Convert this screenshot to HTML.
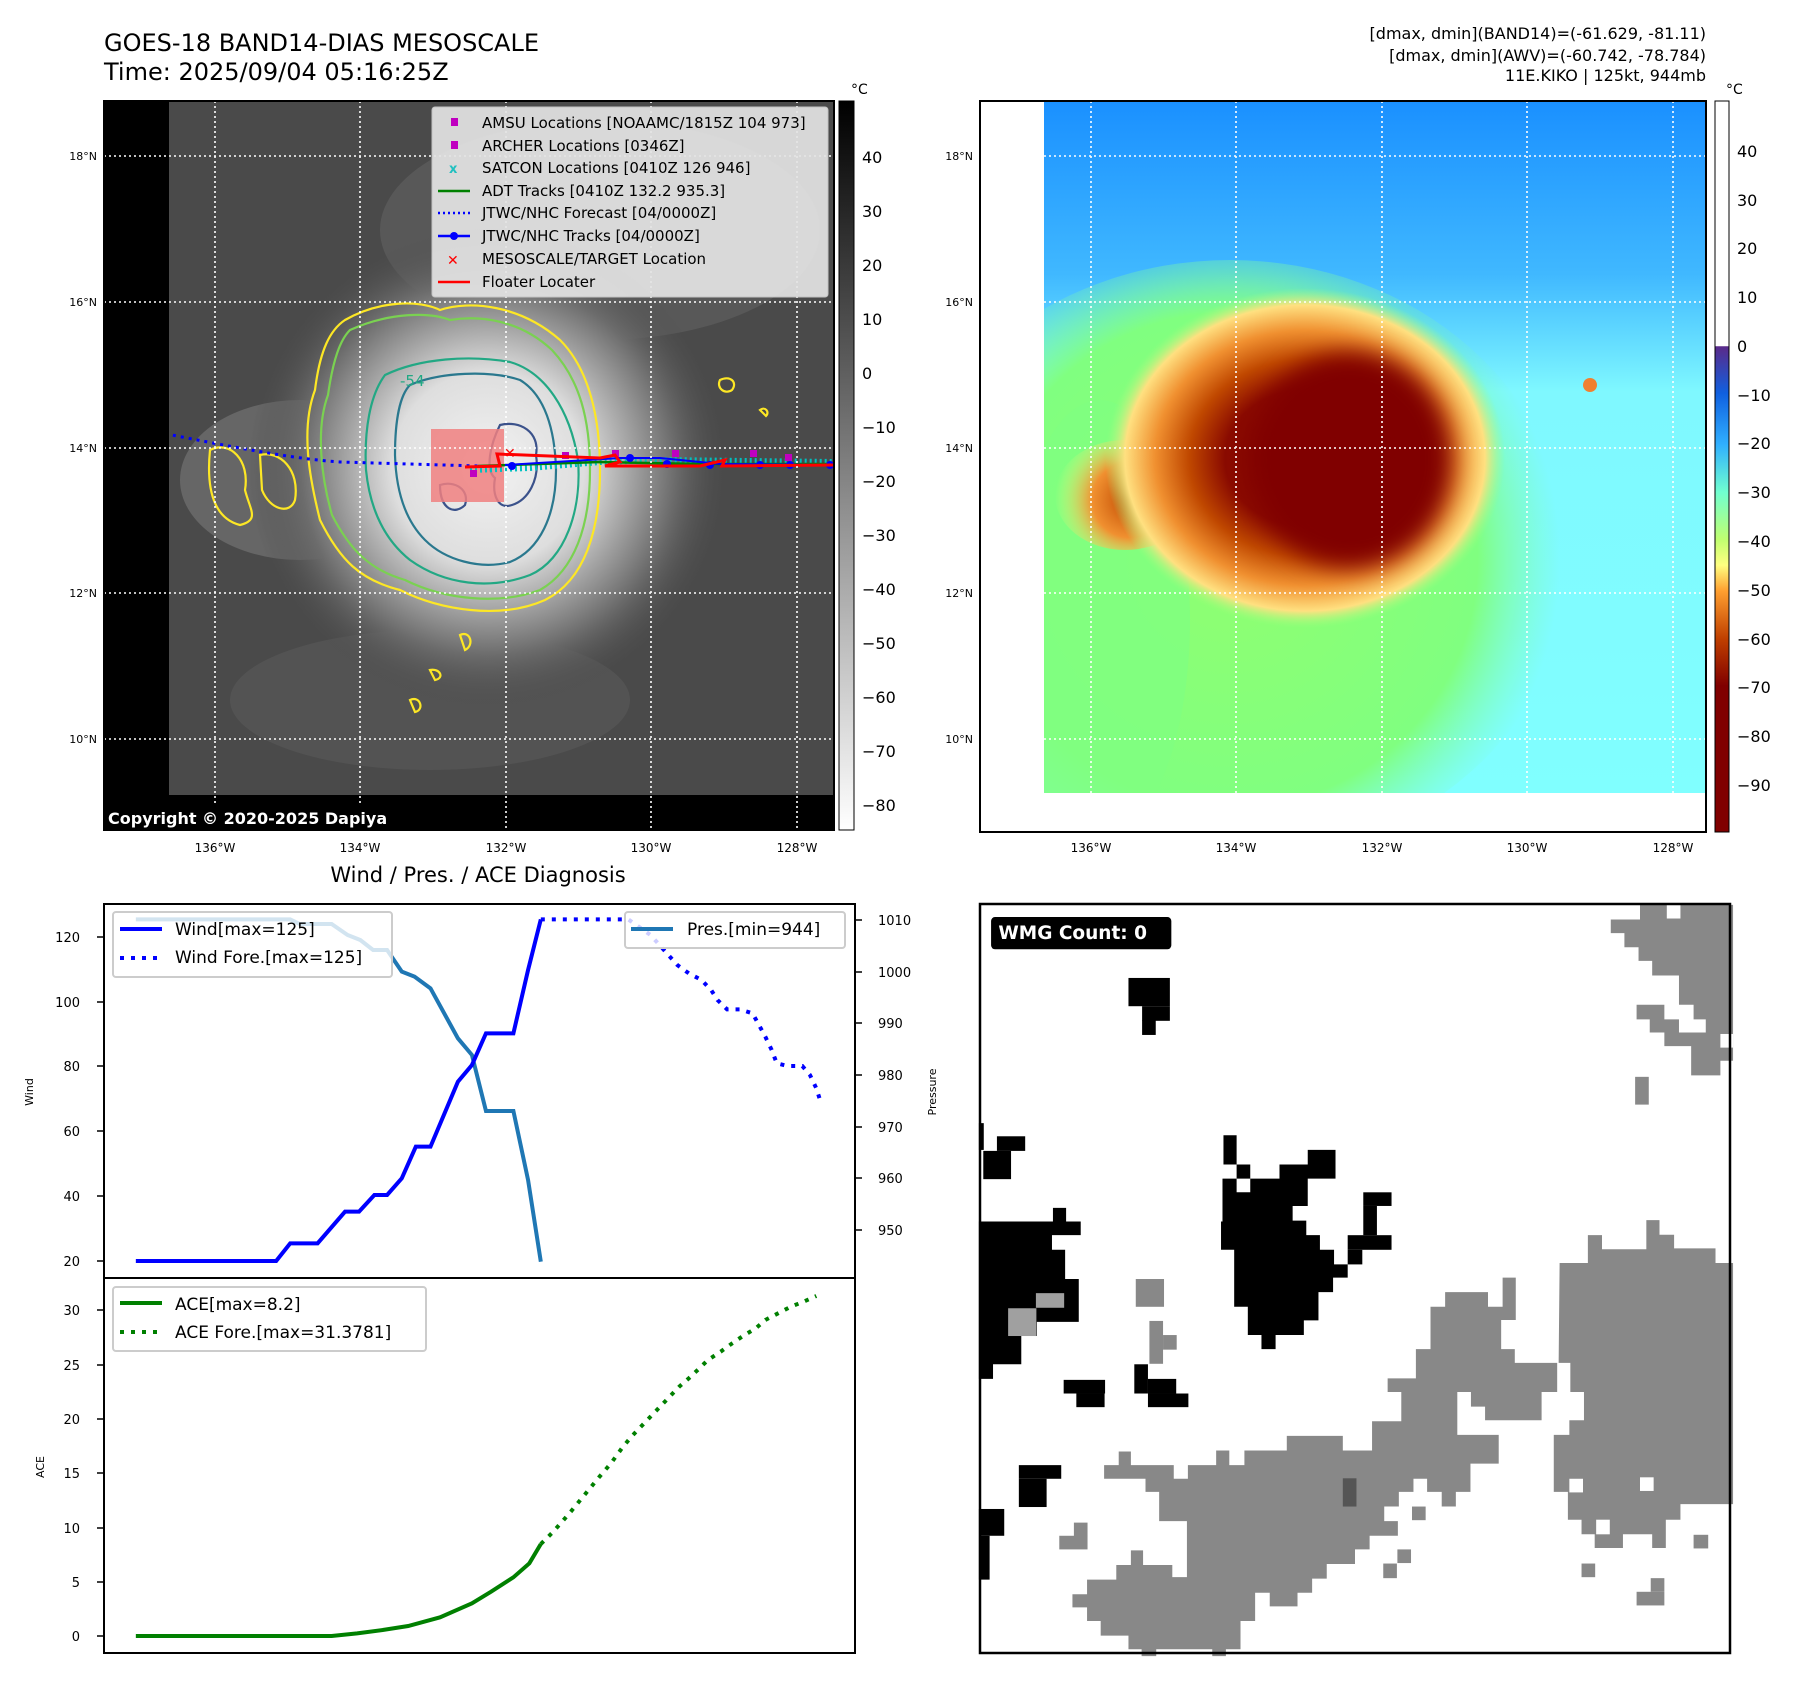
<!DOCTYPE html>
<html><head><meta charset="utf-8"><style>
html,body{margin:0;padding:0;background:#fff}
svg{display:block}
text{font-family:"DejaVu Sans","Liberation Sans",sans-serif}
</style></head><body>
<svg width="1797" height="1690" viewBox="0 0 1797 1690" xmlns="http://www.w3.org/2000/svg">
<defs>
<filter id="blur" x="-30%" y="-30%" width="160%" height="160%"><feGaussianBlur stdDeviation="12"/></filter>
<clipPath id="clipL"><rect x="169" y="101" width="665" height="694"/></clipPath>
<clipPath id="clipR"><rect x="1044" y="101" width="662" height="692"/></clipPath>
<radialGradient id="wc" cx="488" cy="468" r="240" gradientUnits="userSpaceOnUse">
<stop offset="0" stop-color="#f2f2f2"/><stop offset="0.4" stop-color="#dedede"/><stop offset="0.58" stop-color="#a8a8a8"/><stop offset="0.78" stop-color="#6c6c6c"/><stop offset="1" stop-color="#4c4c4c" stop-opacity="0"/>
</radialGradient>
<linearGradient id="gbar" x1="0" y1="0" x2="0" y2="1"><stop offset="0" stop-color="#000"/><stop offset="1" stop-color="#fff"/></linearGradient>
<linearGradient id="cbar" x1="0" y1="101" x2="0" y2="832" gradientUnits="userSpaceOnUse">
<stop offset="0" stop-color="#fff"/><stop offset="0.335" stop-color="#fff"/><stop offset="0.336" stop-color="#5a2a8a"/>
<stop offset="0.40" stop-color="#1060e0"/><stop offset="0.47" stop-color="#30b0ff"/><stop offset="0.535" stop-color="#70ffd0"/>
<stop offset="0.60" stop-color="#c0ff70"/><stop offset="0.635" stop-color="#ffff80"/><stop offset="0.67" stop-color="#ffa030"/>
<stop offset="0.735" stop-color="#c04000"/><stop offset="0.80" stop-color="#800000"/><stop offset="1" stop-color="#800000"/>
</linearGradient>
<linearGradient id="sky" x1="0" y1="101" x2="0" y2="793" gradientUnits="userSpaceOnUse">
<stop offset="0" stop-color="#1a90ff"/><stop offset="0.25" stop-color="#40b8ff"/><stop offset="0.42" stop-color="#7ff8ff"/><stop offset="1" stop-color="#80ffff"/>
</linearGradient>
<radialGradient id="grn" cx="1230" cy="560" r="330" gradientUnits="userSpaceOnUse">
<stop offset="0" stop-color="#90ff70"/><stop offset="0.75" stop-color="#80ff80"/><stop offset="1" stop-color="#80ffb0" stop-opacity="0"/>
</radialGradient>
<radialGradient id="eye" cx="0.5" cy="0.5" r="0.5">
<stop offset="0" stop-color="#800000"/><stop offset="0.4" stop-color="#8a0a00"/><stop offset="0.58" stop-color="#c04800"/>
<stop offset="0.75" stop-color="#f09030"/><stop offset="0.9" stop-color="#ffe080"/><stop offset="1" stop-color="#a0ff80" stop-opacity="0"/>
</radialGradient>
<radialGradient id="arm" cx="1130" cy="500" r="75" gradientUnits="userSpaceOnUse">
<stop offset="0" stop-color="#c04800"/><stop offset="0.5" stop-color="#f09030"/><stop offset="1" stop-color="#ffff80" stop-opacity="0"/>
</radialGradient>
</defs>

<text x="104" y="51" font-size="24">GOES-18 BAND14-DIAS MESOSCALE</text>
<text x="104" y="80" font-size="24">Time: 2025/09/04 05:16:25Z</text>
<g font-size="16" text-anchor="end">
<text x="1706" y="39">[dmax, dmin](BAND14)=(-61.629, -81.11)</text>
<text x="1706" y="61">[dmax, dmin](AWV)=(-60.742, -78.784)</text>
<text x="1706" y="81">11E.KIKO | 125kt, 944mb</text>
</g>

<!-- LEFT MAP -->
<rect x="104" y="101" width="730" height="729" fill="#000"/>
<rect x="169" y="101" width="665" height="694" fill="#4a4a4a"/>
<g clip-path="url(#clipL)">
<ellipse cx="600" cy="230" rx="220" ry="110" fill="#5e5e5e" opacity="0.7"/>
<ellipse cx="300" cy="480" rx="120" ry="80" fill="#7a7a7a" opacity="0.6"/>
<ellipse cx="430" cy="700" rx="200" ry="70" fill="#5a5a5a" opacity="0.6"/>
<ellipse cx="488" cy="468" rx="240" ry="240" fill="url(#wc)"/>
<g fill="none" stroke-width="2.2">
<path d="M345,320 C380,300 420,300 440,310 C470,300 520,305 560,340 C590,370 600,420 600,470 C600,530 585,580 545,600 C500,620 440,610 400,590 C360,580 340,560 320,520 C310,480 300,430 315,390 C320,350 330,330 345,320Z" stroke="#fde725"/>
<path d="M350,330 C390,312 430,312 450,320 C480,315 520,320 552,350 C580,380 590,420 590,470 C590,525 575,570 540,590 C500,605 445,600 405,580 C370,570 350,550 332,515 C322,480 315,430 328,395 C333,360 340,340 350,330Z" stroke="#7ad151"/>
<path d="M385,375 C420,358 470,355 510,362 C545,372 570,410 578,460 C582,510 565,560 530,575 C490,590 445,585 410,560 C385,540 370,510 366,470 C364,430 370,395 385,375Z" stroke="#22a884"/>
<path d="M410,385 C440,372 490,370 520,380 C545,395 555,430 556,470 C556,515 540,550 510,562 C480,570 445,560 425,540 C405,520 396,490 395,455 C395,420 400,395 410,385Z" stroke="#2a788e"/>
<path d="M500,425 C520,420 540,432 536,455 C540,480 528,500 512,505 C498,510 492,495 495,478 C485,470 490,445 500,425Z M440,485 C455,480 470,490 465,505 C455,515 440,510 440,485Z" stroke="#3b528b"/>
<path d="M210,450 C230,440 250,460 245,490 C250,510 260,520 240,525 C220,520 205,500 210,450Z M260,455 C280,450 300,470 295,500 C290,515 270,510 262,490Z" stroke="#fde725"/>
<path d="M720,380 C730,375 738,382 732,390 C725,395 716,388 720,380Z M760,410 C765,406 770,412 766,416Z M460,635 C470,630 475,645 465,650Z M430,670 C440,668 445,678 435,680Z M410,700 C420,695 425,710 415,712Z" stroke="#fde725"/>
</g>
<text x="400" y="386" font-size="15" fill="#22a884">-54</text>
<rect x="431" y="429" width="73" height="73" fill="#f08080" opacity="0.85"/>
<path d="M110,423 C200,440 280,458 340,462 L478,466" fill="none" stroke="#0000ff" stroke-width="3" stroke-dasharray="3 5"/>
<polyline points="470,470 530,468 600,462 660,460 834,462" fill="none" stroke="#00c0c0" stroke-width="6" stroke-dasharray="2 3"/>
<polyline points="478,466 600,462 700,464 834,464" fill="none" stroke="#008000" stroke-width="2.5"/>
<polyline points="505,465 620,458 660,458 720,464 834,465" fill="none" stroke="#0000ff" stroke-width="2"/>
<g fill="#0000ff"><circle cx="512" cy="466" r="4"/><circle cx="630" cy="458" r="4"/><circle cx="667" cy="464" r="4"/><circle cx="710" cy="465" r="4"/><circle cx="760" cy="465" r="4"/><circle cx="790" cy="465" r="4"/><circle cx="830" cy="465" r="4"/></g>
<g fill="#c000c0"><rect x="470" y="470" width="7" height="7"/><rect x="562" y="452" width="7" height="7"/><rect x="612" y="450" width="7" height="7"/><rect x="672" y="450" width="7" height="7"/><rect x="750" y="450" width="7" height="7"/><rect x="785" y="454" width="7" height="7"/></g>
<polyline points="465,467 500,466 497,454 600,458 615,455 620,462 605,466 700,466 725,460 722,466 834,465" fill="none" stroke="#ff0000" stroke-width="3"/>
<text x="504" y="458" font-size="14" fill="#ff0000" font-weight="bold">✕</text>
</g>
<g stroke="#fff" stroke-width="1.6" stroke-dasharray="2 3">
<line x1="215" y1="101" x2="215" y2="830"/><line x1="360" y1="101" x2="360" y2="830"/><line x1="506" y1="101" x2="506" y2="830"/><line x1="651" y1="101" x2="651" y2="830"/><line x1="797" y1="101" x2="797" y2="830"/>
<line x1="104" y1="156" x2="834" y2="156"/><line x1="104" y1="302" x2="834" y2="302"/><line x1="104" y1="448" x2="834" y2="448"/><line x1="104" y1="593" x2="834" y2="593"/><line x1="104" y1="739" x2="834" y2="739"/>
</g>
<rect x="432" y="107" width="396" height="190" rx="3" fill="#e4e4e4" stroke="#ccc" opacity="0.92"/>
<g font-size="15" fill="#000">
<text x="482" y="128">AMSU Locations [NOAAMC/1815Z 104 973]</text>
<text x="482" y="151">ARCHER Locations [0346Z]</text>
<text x="482" y="173">SATCON Locations [0410Z 126 946]</text>
<text x="482" y="196">ADT Tracks [0410Z 132.2 935.3]</text>
<text x="482" y="218">JTWC/NHC Forecast [04/0000Z]</text>
<text x="482" y="241">JTWC/NHC Tracks [04/0000Z]</text>
<text x="482" y="264">MESOSCALE/TARGET Location</text>
<text x="482" y="287">Floater Locater</text>
</g>
<rect x="451" y="118" width="7" height="8" fill="#c000c0"/>
<rect x="451" y="141" width="7" height="8" fill="#c000c0"/>
<text x="449" y="173" font-size="13" fill="#20c0c0" font-weight="bold">x</text>
<line x1="438" y1="191" x2="470" y2="191" stroke="#008000" stroke-width="2.5"/>
<line x1="438" y1="213" x2="470" y2="213" stroke="#0000ff" stroke-width="2.5" stroke-dasharray="2 3"/>
<line x1="438" y1="236" x2="470" y2="236" stroke="#0000ff" stroke-width="2.5"/><circle cx="454" cy="236" r="4" fill="#0000ff"/>
<text x="447" y="265" font-size="14" fill="#ff0000" font-weight="bold">✕</text>
<line x1="438" y1="282" x2="470" y2="282" stroke="#ff0000" stroke-width="2.5"/>
<rect x="104" y="803" width="306" height="27" fill="#000"/>
<text x="108" y="824" font-size="16" font-weight="bold" fill="#fff">Copyright © 2020-2025 Dapiya</text>
<rect x="104" y="101" width="730" height="729" fill="none" stroke="#000" stroke-width="2"/>
<rect x="839" y="101" width="15" height="729" fill="url(#gbar)" stroke="#000" stroke-width="1"/>
<text x="851" y="94" font-size="14">°C</text>
<g font-size="16">
<text x="862" y="163">40</text><text x="862" y="217">30</text><text x="862" y="271">20</text><text x="862" y="325">10</text><text x="862" y="379">0</text>
<text x="862" y="433">−10</text><text x="862" y="487">−20</text><text x="862" y="541">−30</text><text x="862" y="595">−40</text><text x="862" y="649">−50</text>
<text x="862" y="703">−60</text><text x="862" y="757">−70</text><text x="862" y="811">−80</text>
</g>
<g font-size="11" text-anchor="end">
<text x="97" y="160">18°N</text><text x="97" y="306">16°N</text><text x="97" y="452">14°N</text><text x="97" y="597">12°N</text><text x="97" y="743">10°N</text>
<text x="973" y="160">18°N</text><text x="973" y="306">16°N</text><text x="973" y="452">14°N</text><text x="973" y="597">12°N</text><text x="973" y="743">10°N</text>
</g>
<g font-size="12" text-anchor="middle">
<text x="215" y="852">136°W</text><text x="360" y="852">134°W</text><text x="506" y="852">132°W</text><text x="651" y="852">130°W</text><text x="797" y="852">128°W</text>
<text x="1091" y="852">136°W</text><text x="1236" y="852">134°W</text><text x="1382" y="852">132°W</text><text x="1527" y="852">130°W</text><text x="1673" y="852">128°W</text>
</g>

<!-- RIGHT MAP -->
<rect x="980" y="101" width="726" height="731" fill="#fff"/>
<rect x="1044" y="101" width="662" height="692" fill="url(#sky)"/>
<g clip-path="url(#clipR)">
<ellipse cx="1230" cy="560" rx="340" ry="300" fill="url(#grn)"/>
<ellipse cx="1100" cy="620" rx="90" ry="220" fill="#80ff80" opacity="0.85"/>
<ellipse cx="1125" cy="495" rx="70" ry="55" fill="url(#arm)"/>
<ellipse cx="1305" cy="458" rx="200" ry="170" fill="url(#eye)"/>
<ellipse cx="1352" cy="460" rx="100" ry="108" fill="#800000" filter="url(#blur)"/>
<circle cx="1590" cy="385" r="7" fill="#f08030"/>
</g>
<g stroke="#fff" stroke-width="1.6" stroke-dasharray="2 3">
<line x1="1091" y1="101" x2="1091" y2="793"/><line x1="1236" y1="101" x2="1236" y2="793"/><line x1="1382" y1="101" x2="1382" y2="793"/><line x1="1527" y1="101" x2="1527" y2="793"/><line x1="1673" y1="101" x2="1673" y2="793"/>
<line x1="1044" y1="156" x2="1706" y2="156"/><line x1="1044" y1="302" x2="1706" y2="302"/><line x1="1044" y1="448" x2="1706" y2="448"/><line x1="1044" y1="593" x2="1706" y2="593"/><line x1="1044" y1="739" x2="1706" y2="739"/>
</g>
<rect x="980" y="101" width="726" height="731" fill="none" stroke="#000" stroke-width="2"/>
<rect x="1715" y="101" width="14" height="731" fill="url(#cbar)" stroke="#000" stroke-width="1"/>
<text x="1726" y="94" font-size="14">°C</text>
<g font-size="16">
<text x="1737" y="157">40</text><text x="1737" y="206">30</text><text x="1737" y="254">20</text><text x="1737" y="303">10</text><text x="1737" y="352">0</text>
<text x="1737" y="401">−10</text><text x="1737" y="449">−20</text><text x="1737" y="498">−30</text><text x="1737" y="547">−40</text><text x="1737" y="596">−50</text>
<text x="1737" y="645">−60</text><text x="1737" y="693">−70</text><text x="1737" y="742">−80</text><text x="1737" y="791">−90</text>
</g>

<!-- WIND PANEL -->
<text x="478" y="882" font-size="21" text-anchor="middle">Wind / Pres. / ACE Diagnosis</text>
<rect x="104" y="904" width="751" height="374" fill="none" stroke="#000" stroke-width="2"/>
<g font-size="13" text-anchor="end">
<text x="80" y="942">120</text><text x="80" y="1007">100</text><text x="80" y="1071">80</text><text x="80" y="1136">60</text><text x="80" y="1201">40</text><text x="80" y="1266">20</text>
</g>
<g stroke="#000" stroke-width="1.5">
<line x1="97" y1="937" x2="104" y2="937"/><line x1="97" y1="1002" x2="104" y2="1002"/><line x1="97" y1="1066" x2="104" y2="1066"/><line x1="97" y1="1131" x2="104" y2="1131"/><line x1="97" y1="1196" x2="104" y2="1196"/><line x1="97" y1="1261" x2="104" y2="1261"/>
<line x1="855" y1="920" x2="862" y2="920"/><line x1="855" y1="972" x2="862" y2="972"/><line x1="855" y1="1023" x2="862" y2="1023"/><line x1="855" y1="1075" x2="862" y2="1075"/><line x1="855" y1="1127" x2="862" y2="1127"/><line x1="855" y1="1178" x2="862" y2="1178"/><line x1="855" y1="1230" x2="862" y2="1230"/>
</g>
<g font-size="13">
<text x="878" y="925">1010</text><text x="878" y="977">1000</text><text x="878" y="1028">990</text><text x="878" y="1080">980</text><text x="878" y="1132">970</text><text x="878" y="1183">960</text><text x="878" y="1235">950</text>
</g>
<text font-size="11" transform="translate(33,1092) rotate(-90)" text-anchor="middle">Wind</text>
<text font-size="11" transform="translate(936,1092) rotate(-90)" text-anchor="middle">Pressure</text>
<g transform="translate(0,780) scale(0.63776,0.33333)" fill="none">
<polyline vector-effect="non-scaling-stroke" stroke="#1f77b4" stroke-width="4" points="213,418 455,418 470,432 520,432 545,465 565,480 585,510 607,510 630,575 650,590 675,625 718,775 740,825 762,993 805,993 828,1200 848,1445"/>
<polyline vector-effect="non-scaling-stroke" stroke="#0000ff" stroke-width="4" points="213,1443 433,1443 455,1390 498,1390 541,1295 563,1295 587,1245 607,1245 630,1195 652,1100 675,1100 718,905 740,855 762,760 805,760 828,570 848,418"/>
<polyline vector-effect="non-scaling-stroke" stroke="#0000ff" stroke-width="4" stroke-dasharray="4 7" points="848,418 985,418 1020,465 1048,525 1062,555 1080,580 1100,600 1115,630 1125,660 1140,688 1160,688 1180,700 1190,735 1200,770 1210,810 1218,850 1235,858 1258,858 1270,885 1280,925 1285,955"/>
</g>
<rect x="113" y="912" width="279" height="65" rx="3" fill="#fff" fill-opacity="0.8" stroke="#ccc" stroke-width="2"/>
<line x1="120" y1="929" x2="162" y2="929" stroke="#0000ff" stroke-width="4"/>
<line x1="120" y1="958" x2="162" y2="958" stroke="#0000ff" stroke-width="4" stroke-dasharray="4 7"/>
<text x="175" y="935" font-size="17">Wind[max=125]</text>
<text x="175" y="963" font-size="17">Wind Fore.[max=125]</text>
<rect x="625" y="912" width="220" height="36" rx="3" fill="#fff" fill-opacity="0.8" stroke="#ccc" stroke-width="2"/>
<line x1="631" y1="929" x2="673" y2="929" stroke="#1f77b4" stroke-width="4"/>
<text x="687" y="935" font-size="17">Pres.[min=944]</text>

<!-- ACE PANEL -->
<rect x="104" y="1278" width="751" height="375" fill="none" stroke="#000" stroke-width="2"/>
<g font-size="13" text-anchor="end">
<text x="80" y="1315">30</text><text x="80" y="1370">25</text><text x="80" y="1424">20</text><text x="80" y="1478">15</text><text x="80" y="1533">10</text><text x="80" y="1587">5</text><text x="80" y="1641">0</text>
</g>
<g stroke="#000" stroke-width="1.5">
<line x1="97" y1="1310" x2="104" y2="1310"/><line x1="97" y1="1365" x2="104" y2="1365"/><line x1="97" y1="1419" x2="104" y2="1419"/><line x1="97" y1="1473" x2="104" y2="1473"/><line x1="97" y1="1528" x2="104" y2="1528"/><line x1="97" y1="1582" x2="104" y2="1582"/><line x1="97" y1="1636" x2="104" y2="1636"/>
</g>
<text font-size="11" transform="translate(44,1467) rotate(-90)" text-anchor="middle">ACE</text>
<g transform="translate(0,1270) scale(0.63776,0.33333)" fill="none">
<polyline vector-effect="non-scaling-stroke" stroke="#008000" stroke-width="4" points="213,1098 520,1098 560,1090 600,1080 640,1068 690,1042 740,1000 770,965 805,922 830,880 848,822"/>
<polyline vector-effect="non-scaling-stroke" stroke="#008000" stroke-width="4" stroke-dasharray="4 7" points="848,822 865,790 880,758 895,725 910,690 925,655 940,620 958,580 975,535 990,500 1005,470 1020,440 1035,410 1050,380 1065,350 1080,325 1095,298 1110,270 1130,245 1148,220 1165,198 1185,175 1200,150 1220,130 1240,110 1260,95 1280,78"/>
</g>
<rect x="113" y="1287" width="313" height="64" rx="3" fill="#fff" fill-opacity="0.8" stroke="#ccc" stroke-width="2"/>
<line x1="120" y1="1303" x2="162" y2="1303" stroke="#008000" stroke-width="4"/>
<line x1="120" y1="1332" x2="162" y2="1332" stroke="#008000" stroke-width="4" stroke-dasharray="4 7"/>
<text x="175" y="1310" font-size="17">ACE[max=8.2]</text>
<text x="175" y="1338" font-size="17">ACE Fore.[max=31.3781]</text>

<!-- WMG PANEL -->
<g transform="translate(975,900) scale(0.48718)">
<g fill="#888">
<polygon points="1305,40 1365,40 1365,10 1556,10 1556,330 1530,330 1530,360 1470,360 1470,300 1415,300 1415,272 1385,272 1385,245 1358,245 1358,215 1415,215 1415,245 1445,245 1445,272 1500,272 1500,245 1475,245 1475,215 1445,215 1445,155 1390,155 1390,125 1362,125 1362,97 1333,97 1333,68 1305,68"/>
<rect x="1355" y="363" width="28" height="57"/>
<polygon points="200,1425 230,1425 230,1395 290,1395 290,1365 320,1365 320,1335 345,1335 345,1365 405,1365 405,1390 435,1390 435,1275 378,1275 378,1215 350,1215 350,1188 265,1188 265,1160 295,1160 295,1132 320,1132 320,1160 408,1160 408,1188 437,1188 437,1160 495,1160 495,1130 522,1130 522,1160 553,1160 553,1130 640,1130 640,1100 755,1100 755,1130 815,1130 815,1070 875,1070 875,1010 847,1010 847,982 905,982 905,922 935,922 935,835 965,835 965,805 1053,805 1053,835 1083,835 1083,775 1110,775 1110,862 1080,862 1080,922 1108,922 1108,950 1195,950 1195,1010 1163,1010 1163,1068 1047,1068 1047,1040 1018,1040 1018,1010 990,1010 990,1098 1075,1098 1075,1157 1017,1157 1017,1215 987,1215 987,1245 958,1245 958,1215 928,1215 928,1188 900,1188 900,1215 870,1215 870,1245 840,1245 840,1275 868,1275 868,1305 810,1305 810,1333 780,1333 780,1363 722,1363 722,1393 692,1393 692,1422 662,1422 662,1450 605,1450 605,1422 575,1422 575,1480 545,1480 545,1538 515,1538 515,1552 487,1552 487,1538 372,1538 372,1552 342,1552 342,1538 315,1538 315,1510 258,1510 258,1480 230,1480 230,1452 200,1452"/>
<polygon points="1200,745 1258,745 1258,688 1287,688 1287,717 1378,717 1378,657 1405,657 1405,687 1435,687 1435,715 1520,715 1520,745 1556,745 1556,1240 1448,1240 1448,1272 1418,1272 1418,1330 1390,1330 1390,1302 1330,1302 1330,1330 1272,1330 1272,1302 1245,1302 1245,1272 1217,1272 1217,1215 1188,1215 1188,1098 1220,1098 1220,1068 1250,1068 1250,1010 1222,1010 1222,950 1198,950"/>
<rect x="330" y="778" width="58" height="57"/><rect x="358" y="864" width="28" height="88"/><rect x="386" y="893" width="28" height="30"/>
<rect x="173" y="1305" width="58" height="28"/><rect x="203" y="1278" width="28" height="28"/>
<rect x="897" y="1245" width="28" height="28"/><rect x="867" y="1333" width="28" height="28"/><rect x="838" y="1362" width="28" height="30"/>
<rect x="1245" y="1362" width="28" height="28"/><rect x="1475" y="1303" width="30" height="28"/>
<rect x="1358" y="1420" width="57" height="28"/><rect x="1387" y="1392" width="28" height="28"/>
</g>
<g fill="#fff"><rect x="1220" y="1188" width="28" height="28"/><rect x="1365" y="1185" width="28" height="28"/><rect x="1275" y="1272" width="28" height="30"/><rect x="1420" y="10" width="28" height="28"/><rect x="1530" y="275" width="26" height="28"/></g>
<rect x="755" y="1187" width="28" height="58" fill="#555"/>
<g fill="#000">
<rect x="315" y="160" width="85" height="58"/><rect x="343" y="218" width="57" height="30"/><rect x="343" y="247" width="28" height="30"/>
<rect x="17" y="515" width="57" height="58"/><rect x="45" y="485" width="58" height="30"/><rect x="8" y="458" width="10" height="55"/>
<polygon points="12,660 160,660 160,632 187,632 187,660 217,660 217,688 158,688 158,718 185,718 185,778 213,778 213,866 127,866 127,895 95,895 95,953 37,953 37,983 8,983 8,660"/>
<polygon points="510,483 537,483 537,543 565,543 565,572 625,572 625,543 683,543 683,513 740,513 740,572 683,572 683,628 652,628 652,658 680,658 680,688 708,688 708,718 737,718 737,748 765,748 765,775 735,775 735,805 705,805 705,863 675,863 675,893 617,893 617,922 588,922 588,893 560,893 560,835 532,835 532,718 505,718 505,660 508,660 508,572 537,572 537,600 565,600 565,572 537,572 537,543 510,543"/>
<rect x="797" y="600" width="58" height="28"/><rect x="797" y="628" width="28" height="60"/><rect x="765" y="688" width="90" height="30"/><rect x="765" y="718" width="30" height="30"/>
<rect x="182" y="985" width="85" height="28"/><rect x="208" y="1013" width="58" height="28"/>
<rect x="327" y="953" width="28" height="60"/><rect x="355" y="983" width="58" height="30"/><rect x="355" y="1013" width="83" height="28"/>
<rect x="90" y="1160" width="87" height="28"/><rect x="90" y="1188" width="57" height="58"/>
<rect x="8" y="1250" width="52" height="55"/><rect x="8" y="1305" width="22" height="90"/>
</g>
<g fill="#a0a0a0"><rect x="125" y="807" width="58" height="30"/><rect x="68" y="838" width="58" height="57"/></g>
<rect x="33" y="35" width="370" height="66" rx="8" fill="#000"/>
<text x="48" y="80" font-size="38" font-weight="bold" fill="#fff">WMG Count: 0</text>
</g>
<rect x="980" y="904" width="750" height="749" fill="none" stroke="#000" stroke-width="2.5"/>
</svg>
</body></html>
